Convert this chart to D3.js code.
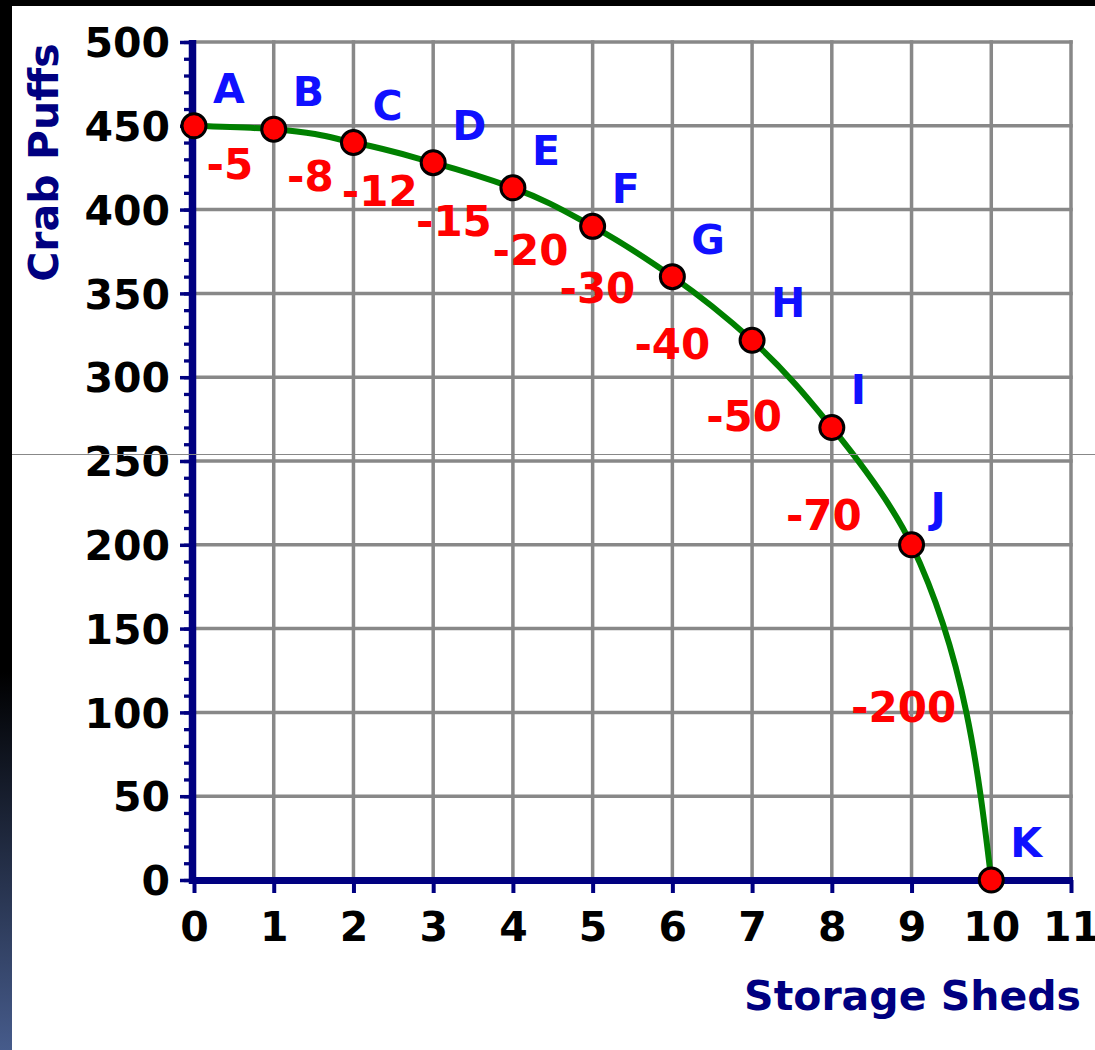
<!DOCTYPE html>
<html>
<head>
<meta charset="utf-8">
<script src="https://cdn.jsdelivr.net/npm/d3@7/dist/d3.min.js"></script>
<style>
  html, body { margin: 0; padding: 0; background: #ffffff; overflow: hidden; }
  svg { display: block; }
  text { font-family: "DejaVu Sans", Verdana, sans-serif; font-weight: bold; }
</style>
</head>
<body>
<svg id="chart" width="1095" height="1050"></svg>
<script>
// ---------------- data ----------------
const sheds = [0, 1, 2, 3, 4, 5, 6, 7, 8, 9, 10];
const crabPuffs = [450, 448, 440, 428, 413, 390, 360, 322, 270, 200, 0];
const pointLabels = ["A", "B", "C", "D", "E", "F", "G", "H", "I", "J", "K"];
const costLabels = ["-5", "-8", "-12", "-15", "-20", "-30", "-40", "-50", "-70", "-200"];
// anchor of each opportunity-cost label, in chart units (sheds, crab puffs)
const costLabelX = [0.45, 1.46, 2.33, 3.26, 4.22, 5.06, 6.0, 6.9, 7.9, 8.9];
const costLabelY = [418, 411, 402, 384, 367, 344, 311, 268, 209, 94];
const xTicks = [0, 1, 2, 3, 4, 5, 6, 7, 8, 9, 10, 11];
const yTicks = [0, 50, 100, 150, 200, 250, 300, 350, 400, 450, 500];
const yMinorTicks = d3.range(0, 501, 10);
const xTitle = "Storage Sheds";
const yTitle = "Crab Puffs";

// ---------------- layout ----------------
const W = 1095, H = 1050;
const NAVY = "#000080", GRID = "#888888";
const svg = d3.select("#chart");

const x = d3.scaleLinear().domain([0, 11]).range([194, 1071]);
const y = d3.scaleLinear().domain([0, 500]).range([880, 42]);

// frame: black top strip and left gradient bar
const defs = svg.append("defs");
const grad = defs.append("linearGradient").attr("id", "leftbar")
  .attr("x1", 0).attr("y1", 0).attr("x2", 0).attr("y2", 1);
grad.append("stop").attr("offset", "0%").attr("stop-color", "#000000");
grad.append("stop").attr("offset", "64%").attr("stop-color", "#000000");
grad.append("stop").attr("offset", "100%").attr("stop-color", "#465b8b");

svg.append("rect").attr("x", 0).attr("y", 0).attr("width", W).attr("height", H).attr("fill", "#ffffff");
svg.append("rect").attr("x", 0).attr("y", 0).attr("width", W).attr("height", 6).attr("fill", "#000000");
svg.append("rect").attr("x", 0).attr("y", 0).attr("width", 12).attr("height", H).attr("fill", "url(#leftbar)");

// grid
const grid = svg.append("g");
grid.selectAll("line.v").data(xTicks.filter(d => d > 0)).enter().append("line")
  .attr("x1", d => x(d)).attr("x2", d => x(d))
  .attr("y1", y(500)).attr("y2", y(0))
  .attr("stroke", GRID).attr("stroke-width", 3.5).attr("stroke-linecap", "square");
grid.selectAll("line.h").data(yTicks.filter(d => d > 0)).enter().append("line")
  .attr("x1", x(0)).attr("x2", x(11))
  .attr("y1", d => y(d)).attr("y2", d => y(d))
  .attr("stroke", GRID).attr("stroke-width", 3.5).attr("stroke-linecap", "square");

// y axis: minor ticks
const yMinor = svg.append("g").attr("transform", `translate(${x(0)},0)`)
  .call(d3.axisLeft(y).tickValues(yMinorTicks).tickSize(10).tickFormat(""));
yMinor.select(".domain").remove();
yMinor.selectAll(".tick line").attr("stroke", NAVY).attr("stroke-width", 3.3);

// y axis: major ticks + labels
const yAxis = svg.append("g").attr("transform", `translate(${x(0)},0)`)
  .call(d3.axisLeft(y).tickValues(yTicks).tickSize(14).tickPadding(10));
yAxis.select(".domain").remove();
yAxis.selectAll(".tick line").attr("stroke", NAVY).attr("stroke-width", 3.5);
yAxis.selectAll(".tick text")
  .attr("fill", "#000000").attr("font-size", 41)
  .attr("font-family", "DejaVu Sans, Verdana, sans-serif").attr("font-weight", "bold")
  .attr("dy", "0.36em");

// x axis
const xAxis = svg.append("g").attr("transform", `translate(0,${y(0)})`)
  .call(d3.axisBottom(x).tickValues(xTicks).tickSize(13).tickFormat(d3.format("d")));
xAxis.select(".domain").remove();
xAxis.selectAll(".tick line").attr("stroke", NAVY).attr("stroke-width", 4);
xAxis.selectAll(".tick text")
  .attr("fill", "#000000").attr("font-size", 41)
  .attr("font-family", "DejaVu Sans, Verdana, sans-serif").attr("font-weight", "bold")
  .attr("y", 61).attr("dy", 0);

// axis lines
svg.append("line").attr("x1", x(0) - 1.5).attr("x2", x(0) - 1.5)
  .attr("y1", y(500) - 2).attr("y2", y(0) + 4)
  .attr("stroke", NAVY).attr("stroke-width", 7.5);
svg.append("line").attr("x1", x(0) - 5).attr("x2", x(11) + 2)
  .attr("y1", y(0) + 0.5).attr("y2", y(0) + 0.5)
  .attr("stroke", NAVY).attr("stroke-width", 7);

// axis titles
svg.append("text").attr("x", 1081).attr("y", 1010)
  .attr("text-anchor", "end").attr("font-size", 41).attr("fill", NAVY).text(xTitle);
svg.append("text")
  .attr("transform", `translate(58,${(y(500) + 283) / 2}) rotate(-90)`)
  .attr("text-anchor", "middle").attr("font-size", 41).attr("fill", NAVY).text(yTitle);

// curve
const pts = sheds.map((s, i) => ({ s, c: crabPuffs[i], label: pointLabels[i] }));
const line = d3.line().x(d => x(d.s)).y(d => y(d.c)).curve(d3.curveMonotoneY);
svg.append("path").datum(pts).attr("d", line)
  .attr("fill", "none").attr("stroke", "#008000").attr("stroke-width", 6);

// opportunity-cost labels
svg.selectAll("text.cost").data(costLabels).enter().append("text")
  .attr("class", "cost")
  .attr("x", (d, i) => x(costLabelX[i])).attr("y", (d, i) => y(costLabelY[i]))
  .attr("text-anchor", "middle").attr("font-size", 42).attr("fill", "#ff0000")
  .text(d => d);

// points
svg.selectAll("circle.pt").data(pts).enter().append("circle")
  .attr("class", "pt")
  .attr("cx", d => x(d.s)).attr("cy", d => y(d.c)).attr("r", 12)
  .attr("fill", "#ff0000").attr("stroke", "#000000").attr("stroke-width", 3);

// point letters
svg.selectAll("text.pl").data(pts).enter().append("text")
  .attr("class", "pl")
  .attr("x", d => x(d.s) + 19).attr("y", d => y(d.c) - 23)
  .attr("font-size", 41).attr("fill", "#1010ff")
  .text(d => d.label);

// thin grey overlay line across the picture
svg.append("line").attr("x1", 12).attr("x2", W).attr("y1", 454.5).attr("y2", 454.5)
  .attr("stroke", GRID).attr("stroke-width", 1.2);
</script>
</body>
</html>
